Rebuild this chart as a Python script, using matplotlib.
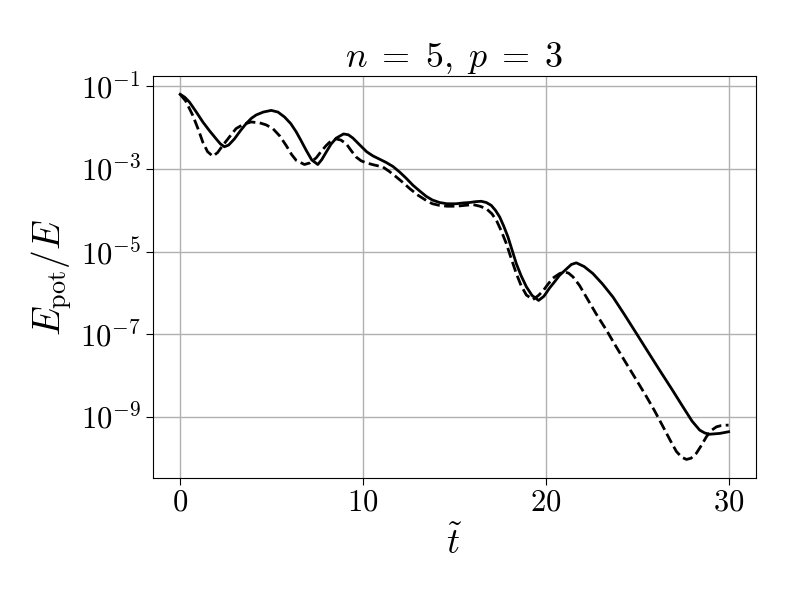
import numpy as np
import matplotlib
matplotlib.use("Agg")
import matplotlib.pyplot as plt

plt.rcParams['mathtext.fontset'] = 'cm'
plt.rcParams['font.family'] = 'serif'
plt.rcParams['font.serif'] = ['cmr10', 'DejaVu Serif']
plt.rcParams['axes.formatter.use_mathtext'] = True

t_solid = [0.0, 0.25, 0.51, 0.9, 1.24, 1.6, 1.97, 2.2, 2.42, 2.65, 2.97, 3.3, 3.61, 3.9,
           4.16, 4.55, 4.98, 5.35, 5.71, 6.05, 6.35, 6.6, 6.9, 7.2, 7.53, 7.75, 7.99, 8.25,
           8.54, 8.94, 9.2, 9.45, 9.81, 10.2, 10.54, 11.27, 11.65, 12.0, 12.36, 12.73, 13.1,
           13.46, 13.8, 14.19, 14.6, 15.1, 15.5, 15.83, 16.15, 16.47, 16.75, 17.02, 17.25,
           17.48, 17.7, 17.93, 18.15, 18.39, 18.65, 18.94, 19.25, 19.61, 19.9, 20.21, 20.5,
           20.76, 21.13, 21.4, 21.67, 22.1, 22.58, 23.1, 23.68, 24.3, 24.96, 25.6, 26.23,
           26.9, 27.51, 28.0, 28.42, 28.7, 28.97, 29.52, 30.0]
log_solid = [-1.19, -1.26, -1.38, -1.63, -1.86, -2.07, -2.27, -2.39, -2.46, -2.42, -2.27,
             -2.07, -1.90, -1.77, -1.69, -1.62, -1.58, -1.62, -1.74, -1.90, -2.10, -2.30,
             -2.55, -2.78, -2.89, -2.77, -2.59, -2.40, -2.25, -2.15, -2.17, -2.25, -2.41,
             -2.58, -2.68, -2.84, -2.94, -3.07, -3.22, -3.39, -3.53, -3.66, -3.75, -3.81,
             -3.84, -3.84, -3.82, -3.81, -3.79, -3.78, -3.81, -3.88, -4.00, -4.16, -4.38,
             -4.64, -4.95, -5.29, -5.58, -5.85, -6.06, -6.18, -6.08, -5.88, -5.72, -5.57,
             -5.42, -5.31, -5.27, -5.36, -5.53, -5.78, -6.10, -6.52, -6.98, -7.43, -7.87,
             -8.33, -8.76, -9.10, -9.32, -9.39, -9.42, -9.40, -9.36]

t_dash = [0.0, 0.3, 0.69, 1.0, 1.24, 1.5, 1.79, 2.05, 2.33, 2.7, 3.06, 3.45, 3.88, 4.34,
          4.7, 5.07, 5.45, 5.8, 6.1, 6.35, 6.8, 7.1, 7.44, 7.7, 7.99, 8.25, 8.54, 8.8, 9.09,
          9.35, 9.63, 9.9, 10.18, 10.6, 11.09, 11.45, 11.82, 12.2, 12.55, 13.0, 13.46, 13.8,
          14.19, 14.6, 15.1, 15.55, 16.02, 16.4, 16.75, 17.05, 17.3, 17.55, 17.84, 18.1,
          18.39, 18.65, 18.94, 19.3, 19.6, 19.85, 20.1, 20.39, 20.76, 21.03, 21.25, 21.49,
          21.85, 22.22, 22.75, 23.32, 23.85, 24.41, 24.95, 25.51, 25.95, 26.42, 26.8, 27.15,
          27.45, 27.7, 27.95, 28.24, 28.5, 28.79, 29.05, 29.34, 29.6, 29.89, 30.0]
log_dash = [-1.19, -1.35, -1.70, -2.05, -2.35, -2.58, -2.69, -2.60, -2.43, -2.22, -2.02,
            -1.92, -1.86, -1.88, -1.93, -2.02, -2.20, -2.43, -2.65, -2.79, -2.89, -2.85,
            -2.73, -2.58, -2.43, -2.32, -2.27, -2.30, -2.39, -2.55, -2.71, -2.80, -2.85,
            -2.90, -2.95, -3.06, -3.19, -3.33, -3.47, -3.63, -3.76, -3.84, -3.88, -3.90,
            -3.90, -3.88, -3.86, -3.90, -3.96, -4.08, -4.24, -4.48, -4.80, -5.15, -5.53,
            -5.82, -6.05, -6.16, -6.06, -5.95, -5.80, -5.64, -5.53, -5.49, -5.52, -5.61,
            -5.82, -6.10, -6.50, -6.90, -7.30, -7.71, -8.10, -8.51, -8.85, -9.24, -9.56,
            -9.84, -9.98, -10.03, -10.00, -9.88, -9.70, -9.48, -9.33, -9.24, -9.21, -9.20,
            -9.20]

title = r'$n\;=\;5,\;p\;=\;3$'
xlabel = r'$\tilde{t}$'
ylabel = r'$E_{\rm pot}/E$'

fig = plt.figure(figsize=(7.93, 5.94), dpi=100)
ax = fig.add_axes([0.1926, 0.1958, 0.9533 - 0.1926, 0.872 - 0.1958])
ax.plot(t_solid, 10.0 ** np.array(log_solid), 'k-', lw=2.0)
ax.plot(t_dash, 10.0 ** np.array(log_dash), 'k--', lw=2.0)
ax.set_yscale('log')
ax.set_xticks([0, 10, 20, 30])
ax.set_yticks([1e-9, 1e-7, 1e-5, 1e-3, 1e-1])
ax.yaxis.set_minor_locator(matplotlib.ticker.NullLocator())
ax.grid(True, color='#b0b0b0', lw=1.0)
ax.tick_params(labelsize=22, length=5)
ax.set_title(title, fontsize=26, pad=6)
ax.set_xlabel(xlabel, fontsize=26, labelpad=6)
ax.set_ylabel(ylabel, fontsize=27, labelpad=4)
fig.savefig('out.png', dpi=100)
